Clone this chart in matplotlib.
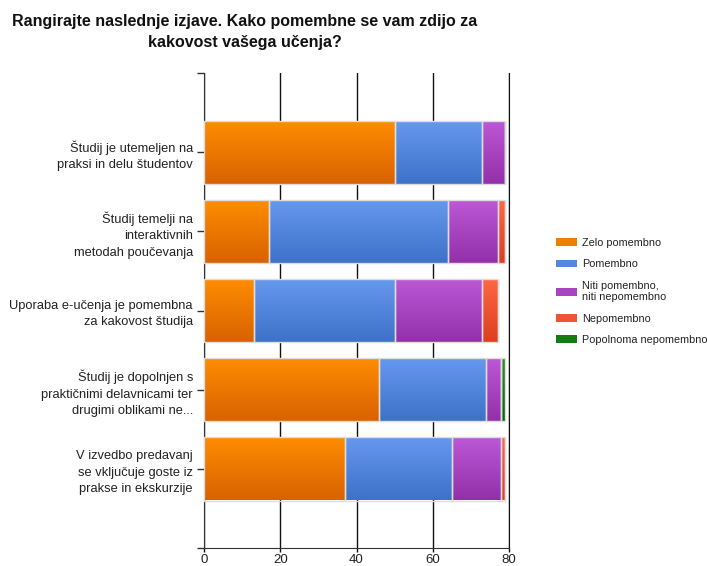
import matplotlib
matplotlib.use("Agg")
import matplotlib.pyplot as plt
import numpy as np
from matplotlib.colors import LinearSegmentedColormap
from matplotlib.patches import Patch

plt.rcParams['font.family'] = ['Liberation Sans', 'DejaVu Sans']

title = "Rangirajte naslednje izjave. Kako pomembne se vam zdijo za\nkakovost vašega učenja?"

statements = [
    "Študij je utemeljen na\npraksi in delu študentov",
    "Študij temelji na\ninteraktivnih\nmetodah poučevanja",
    "Uporaba e-učenja je pomembna\nza kakovost študija",
    "Študij je dopolnjen s\npraktičnimi delavnicami ter\ndrugimi oblikami ne...",
    "V izvedbo predavanj\nse vključuje goste iz\nprakse in ekskurzije",
]

answers = ["Zelo pomembno", "Pomembno", "Niti pomembno,\nniti nepomembno",
           "Nepomembno", "Popolnoma nepomembno"]

zelo_pomembno = [50, 17, 13, 46, 37]
pomembno = [23, 47, 37, 28, 28]
niti_niti = [6, 13, 23, 4, 13]
nepomembno = [0, 2, 4, 0, 1]
popolnoma_nepomembno = [0, 0, 0, 1, 0]

x_ticks = [0, 20, 40, 60, 80]

# (top, bottom) shade of each series, bars are shaded light to dark
shades = [
    ("#ff8d00", "#d96200"),
    ("#6699ee", "#3d72c8"),
    ("#bd58d6", "#9230a9"),
    ("#ff6747", "#dc3f1e"),
    ("#2a922a", "#006900"),
]
flat = ["#f07f00", "#5588dd", "#a844c0", "#ee5533", "#137d13"]

series = [zelo_pomembno, pomembno, niti_niti, nepomembno, popolnoma_nepomembno]

fig = plt.figure(figsize=(7.07, 5.66), dpi=100)
ax = fig.add_axes([204 / 707, 1 - 548 / 566, 305 / 707, 475 / 566])

y = np.arange(len(statements))
left = np.zeros(len(statements))
grad = np.linspace(0, 1, 64).reshape(-1, 1)
for vals, (c_top, c_bot) in zip(series, shades):
    vals = np.array(vals, dtype=float)
    bars = ax.barh(y, vals, left=left, height=0.8, facecolor='none',
                   edgecolor='#dddddd', linewidth=1, zorder=3)
    cmap = LinearSegmentedColormap.from_list("shade", [c_top, c_bot])
    for rect, v in zip(bars.patches, vals):
        if v <= 0:
            continue
        x0, y0 = rect.get_x(), rect.get_y()
        w, h = rect.get_width(), rect.get_height()
        im = ax.imshow(grad, cmap=cmap, aspect='auto', origin='upper',
                       extent=(x0, x0 + w, y0 + h, y0), zorder=2,
                       interpolation='bilinear')
        im.set_clip_path(rect)
    left += vals

ax.set_xlim(0, 80)
ax.set_ylim(5, -1)

ax.set_xticks(x_ticks)
ax.set_xticklabels([str(t) for t in x_ticks], fontsize=9.5, color='#222222')
ax.tick_params(axis='x', length=3, width=1, color='#111111', pad=1.5)
ax.xaxis.grid(True, color='#111111', linewidth=1)
ax.set_axisbelow(True)

ax.set_yticks(list(y) + [-1, 5])
ax.set_yticklabels(statements + ["", ""], fontsize=9.3, color='#222222',
                   linespacing=1.5)
ax.tick_params(axis='y', length=5, width=1, color='#333333', pad=3)

ax.spines['top'].set_visible(False)
ax.spines['right'].set_color('#111111')
ax.spines['left'].set_color('#333333')
ax.spines['bottom'].set_color('#333333')

fig.text(245 / 707, 1 - 14 / 566, title, ha='center', va='top',
         fontsize=11.5, fontweight='bold', linespacing=1.5, color='#111111')

handles = [Patch(facecolor=c, edgecolor='none') for c in flat]
ax.legend(handles, answers, loc='center left',
          bbox_to_anchor=(556 / 707, 1 - 291.5 / 566),
          bbox_transform=fig.transFigure, frameon=False, fontsize=7.8,
          handlelength=1.95, handleheight=0.7, handletextpad=0.45,
          labelspacing=1.05, borderpad=0, borderaxespad=0,
          labelcolor='#222222')

fig.savefig("out.png", dpi=100)
